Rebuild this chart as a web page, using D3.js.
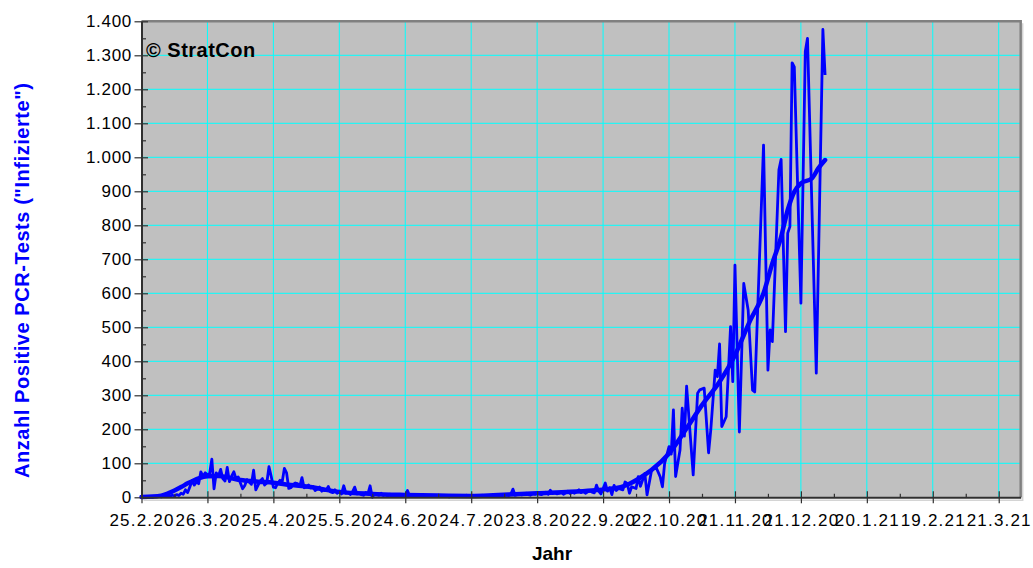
<!DOCTYPE html>
<html lang="de">
<head>
<meta charset="UTF-8">
<title>Anzahl Positive PCR-Tests</title>
<script src="https://d3js.org/d3.v7.min.js"></script>
<style>
  body { margin: 0; background: #fff; }
  svg { display: block; font-family: Arial, "Liberation Sans", sans-serif; }
</style>
</head>
<body>
<div id="chart"></div>
<script>
const width = 1033, height = 568;
const startDate = new Date(Date.UTC(2020, 1, 25));   // 25.2.20 = day 0

// daily positive tests, days 0-124 (one value per day)
const springWave = [
  0,0,1,0,1,0,2,1,3,1,4,2,5,3,6,4,8,5,12,9,
  22,14,30,49,36,45,40,75,62,72,66,70,112,25,72,63,82,55,48,88,
  46,62,75,55,60,42,25,35,52,45,38,80,22,35,48,55,36,42,90,62,
  30,28,42,50,45,85,72,26,28,38,42,40,32,58,28,30,36,28,32,20,
  24,30,18,22,20,32,16,14,22,12,18,10,34,12,14,8,16,30,10,12,
  8,6,14,10,34,0,10,8,6,12,5,8,4,9,5,3,7,4,6,2,5,20,4,3,6
];
// days 125-216
const summerLull = [
  3,5,2,4,6,3,2,5,4,3,6,2,4,3,5,1,3,4,2,5,3,4,2,6,3,2,4,5,3,2,6,4,3,5,2,4,
  5,3,7,4,6,8,5,9,24,6,8,10,7,9,12,8,6,11,9,13,10,8,12,15,9,21,11,14,10,12,
  16,9,13,18,11,15,12,17,22,14,18,12,16,20,15,13,36,18,10,25,42,18,28,8,35,20
];
// autumn wave: [day, value] at the corners of the line
const autumnWave = [
  [217,26],[219,22],[220,45],[221,41],[222,12],[223,31],[225,26],[226,61],[227,32],
  [229,70],[230,7],[232,77],[234,90],[236,60],[237,31],[238,100],[240,149],[241,127],
  [242,257],[243,61],[245,139],[246,262],[247,180],[248,327],[251,66],[253,306],
  [254,316],[256,321],[258,131],[259,198],[261,374],[262,355],[263,451],[264,208],
  [266,237],[268,502],[269,340],[270,683],[272,192],[274,629],[276,551],[278,315],
  [279,310],[283,1036],[285,374],[286,492],[287,458],[290,963],[291,994],[293,487],
  [294,777],[295,796],[296,1278],[297,1266],[300,571],[302,1311],[303,1350],
  [307,365],[310,1376],[311,1242]
];

// smoothed trend
const trendDays   = [0, 5, 9, 15, 18, 21, 26, 30, 35, 41, 45, 53, 60, 68, 76, 83, 90, 105, 120, 135,
                     150, 160, 170, 180, 195, 205, 212, 218, 222, 226, 232, 240, 248, 255, 263, 270,
                     277, 283, 287, 291, 294, 297, 300, 305, 308, 311];
const trendValues = [1, 2, 5, 20, 30, 41, 56, 62, 63, 56, 51, 46, 43, 36, 31, 23, 16, 10, 7, 5,
                     4, 6, 9, 12, 16, 20, 24, 30, 40, 54, 80, 129, 203, 271, 340, 418,
                     521, 600, 688, 766, 845, 899, 923, 938, 968, 992];

const xTickDays = d3.range(0, 391, 30);
const xMinorDays = d3.range(15, 391, 30);
const yTicks = d3.range(0, 1401, 100);
const yMinor = d3.range(50, 1400, 100);

const day = d => d3.utcDay.offset(startDate, d);
const daily = springWave.map((v, i) => [i, v])
  .concat(summerLull.map((v, i) => [125 + i, v]))
  .concat(autumnWave);
const trend = trendDays.map((d, i) => [d, trendValues[i]]);

const plotLeft = 141.5, plotRight = 1020.7, plotTop = 21.3, plotBottom = 497.3;

const x = d3.scaleUtc().domain([startDate, day(400)]).range([plotLeft, plotRight]);
const y = d3.scaleLinear().domain([0, 1400]).range([plotBottom, plotTop]);

const de = d3.formatLocale({ decimal: ",", thousands: ".", grouping: [3], currency: ["", "€"] });

const svg = d3.select("#chart").append("svg")
  .attr("width", width)
  .attr("height", height);

// plot area
svg.append("rect")
  .attr("x", plotLeft).attr("y", plotTop)
  .attr("width", plotRight - plotLeft).attr("height", plotBottom - plotTop)
  .attr("fill", "#c0c0c0");

// grid
svg.append("g").selectAll("line")
  .data(xTickDays.slice(1))
  .enter().append("line")
  .attr("x1", d => x(day(d))).attr("x2", d => x(day(d)))
  .attr("y1", plotTop).attr("y2", plotBottom)
  .attr("stroke", "#00ffff").attr("stroke-width", 1);

svg.append("g").selectAll("line")
  .data(yTicks.slice(1, -1))
  .enter().append("line")
  .attr("x1", plotLeft).attr("x2", plotRight)
  .attr("y1", d => y(d)).attr("y2", d => y(d))
  .attr("stroke", "#00ffff").attr("stroke-width", 1);

// frame top/right
svg.append("path")
  .attr("d", `M${plotLeft},${plotTop}H${plotRight}V${plotBottom}`)
  .attr("fill", "none").attr("stroke", "#808080").attr("stroke-width", 2.5);
svg.append("path")
  .attr("d", `M${plotRight + 2},${plotTop + 2}V${plotBottom + 3}H${plotLeft + 2}`)
  .attr("fill", "none").attr("stroke", "#d4d4d4").attr("stroke-width", 1.5);

// data
const line = d3.line()
  .x(d => x(day(d[0])))
  .y(d => y(d[1]));

svg.append("path")
  .datum(daily)
  .attr("d", line)
  .attr("fill", "none")
  .attr("stroke", "#0000ff")
  .attr("stroke-width", 2.8)
  .attr("stroke-linejoin", "round");

svg.append("path")
  .datum(trend)
  .attr("d", line.curve(d3.curveMonotoneX))
  .attr("fill", "none")
  .attr("stroke", "#0000ff")
  .attr("stroke-width", 4.5)
  .attr("stroke-linecap", "round");

// y axis
const yAxis = svg.append("g")
  .attr("transform", `translate(${plotLeft},0)`)
  .call(d3.axisLeft(y).tickValues(yTicks).tickSize(7).tickPadding(2.5)
    .tickSizeOuter(0).tickFormat(de.format(",d")));
yAxis.selectAll(".tick line").attr("x1", 6.5);
yAxis.append("g")
  .call(d3.axisLeft(y).tickValues(yMinor).tickSize(-4.5).tickFormat(""))
  .select(".domain").remove();

// x axis
const xAxis = svg.append("g")
  .attr("transform", `translate(0,${plotBottom})`)
  .call(d3.axisBottom(x).tickValues(xTickDays.map(day)).tickSize(6).tickPadding(11)
    .tickSizeOuter(0).tickFormat(d3.utcFormat("%-d.%-m.%y")));
xAxis.selectAll(".tick line").attr("y1", -6);
xAxis.append("g")
  .call(d3.axisBottom(x).tickValues(xMinorDays.map(day)).tickSize(-3.5).tickFormat(""))
  .select(".domain").remove();

svg.selectAll(".domain").attr("stroke", "#303030").attr("stroke-width", 2);
svg.selectAll(".tick line").attr("stroke", "#303030").attr("stroke-width", 1.2);
yAxis.selectAll(".tick text").attr("font-size", 17).attr("fill", "#000")
  .attr("letter-spacing", 0.7);
xAxis.selectAll(".tick text").attr("font-size", 17).attr("fill", "#000")
  .attr("letter-spacing", 1.2);

// titles
svg.append("text")
  .attr("transform", "translate(22,280.5) rotate(-90)")
  .attr("text-anchor", "middle")
  .attr("dominant-baseline", "central")
  .attr("font-size", 20).attr("font-weight", "bold")
  .attr("fill", "#0000ff")
  .attr("textLength", 395)
  .text('Anzahl Positive PCR-Tests ("Infizierte")');

svg.append("text")
  .attr("x", 552).attr("y", 560)
  .attr("text-anchor", "middle")
  .attr("font-size", 19).attr("font-weight", "bold")
  .text("Jahr");

svg.append("text")
  .attr("x", 146).attr("y", 57)
  .attr("font-size", 20).attr("font-weight", "bold")
  .attr("letter-spacing", 0.5)
  .text("© StratCon");
</script>
</body>
</html>
